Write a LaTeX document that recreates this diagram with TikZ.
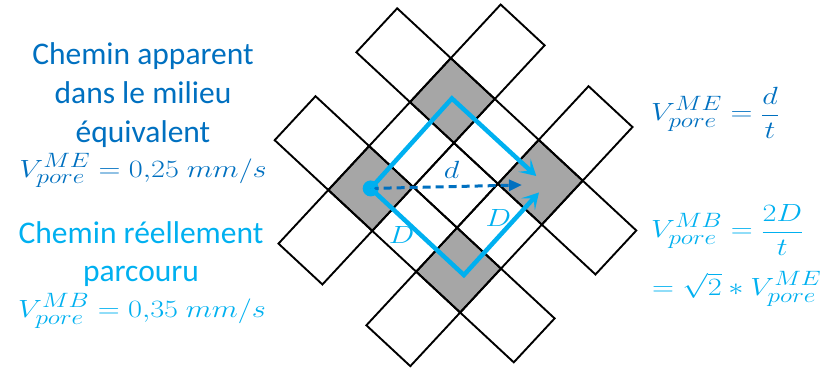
\documentclass[tikz,border=0pt]{standalone}
\usepackage{fontspec}
\setmainfont{Carlito}
\usepackage{graphicx}
\usetikzlibrary{arrows.meta}
\definecolor{dblue}{RGB}{0,112,192}
\definecolor{lblue}{RGB}{0,176,240}
\definecolor{cellgrey}{RGB}{166,166,166}
\newcommand{\wmath}[1]{\scalebox{1.22}[1]{$\displaystyle #1$}}
\begin{document}
\begin{tikzpicture}[x=1pt,y=1pt,
  cell/.style={draw=black, line width=1.9pt},
  greycell/.style={fill=cellgrey},
  bluepath/.style={draw=lblue, line width=4.5pt, -{Stealth[length=16pt,width=18pt,inset=8pt]}},
  dasharrow/.style={draw=dblue, line width=3pt, dash pattern=on 8pt off 5pt, -{Triangle[length=13pt,width=11pt]}},
  txt/.style={font=\fontsize{31.5}{38}\selectfont, anchor=base, inner sep=0pt},
  mth/.style={font=\fontsize{28}{32}\selectfont, inner sep=0pt},
  lbl/.style={font=\fontsize{28}{32}\selectfont, inner sep=0pt}
]
\useasboundingbox (0,0) rectangle (821,369);

\begin{scope}[shift={(328.3,179)}, rotate=-42.9, x=60pt, y=60pt]
  % grey cells
  \fill[greycell] (0,0) rectangle (1,1);
  \fill[greycell] (0,2) rectangle (1,3);
  \fill[greycell] (2,0) rectangle (3,1);
  \fill[greycell] (2,2) rectangle (3,3);
  % inner 3x3 block
  \foreach \i in {0,1,2} {\foreach \j in {0,1,2} {\draw[cell] (\i,\j) rectangle ++(1,1);}}
  % outer cells
  \draw[cell] (-1.22,0) rectangle (0,1);
  \draw[cell] (0,-1.22) rectangle (1,0);
  \draw[cell] (-1.22,2) rectangle (0,3);
  \draw[cell] (0,3) rectangle (1,4.22);
  \draw[cell] (3,2) rectangle (4.22,3);
  \draw[cell] (2,3) rectangle (3,4.22);
  \draw[cell] (3,0) rectangle (4.22,1);
  \draw[cell] (2,-1.22) rectangle (3,0);
  % path points
  \coordinate (up1) at (0.47,2.52);
  \coordinate (up2) at (2.38,2.53);
  \coordinate (lo1) at (2.62,0.5);
  \coordinate (lo2) at (2.6,2.36);
  \node[circle, fill=lblue, minimum size=16pt, inner sep=0pt] (dot) at (0.5,0.5) {};
\end{scope}

\coordinate (dtip) at (522,184);
\draw[dasharrow] (dot.center) -- (dtip);
\draw[bluepath] (dot.center) -- (up1) -- (up2);
\draw[bluepath] (dot.center) -- (lo1) -- (lo2);

\node[lbl, text=dblue] (dlab) at (451.7,199) {\wmath{d}};
\node[lbl, text=lblue] (Dlab1) at (401.7,134) {\wmath{D}};
\node[lbl, text=lblue] (Dlab2) at (498.3,150.7) {\wmath{D}};

% left texts
\node[txt, text=dblue] (l1) at (143,304) {Chemin apparent};
\node[txt, text=dblue] (l2) at (143,265) {dans le milieu};
\node[txt, text=dblue] (l3) at (143,226.5) {équivalent};
\node[mth, anchor=base, text=dblue] (l4) at (143,191.5) {\wmath{V_{pore}^{ME}=0{,}25\ mm/s}};
\node[txt, text=lblue] (m1) at (141,125.7) {Chemin réellement};
\node[txt, text=lblue] (m2) at (141,87.5) {parcouru};
\node[mth, anchor=base, text=lblue] (m3) at (142,51) {\wmath{V_{pore}^{MB}=0{,}35\ mm/s}};

% right formulas
\node[mth, anchor=base west, text=dblue] (r1) at (651,248) {\wmath{V_{pore}^{ME}=\frac{d}{t}}};
\node[mth, anchor=base west, text=lblue] (r2) at (651,131) {\wmath{V_{pore}^{MB}=\frac{2D}{t}}};
\node[mth, anchor=base west, text=lblue] (r3) at (652,73) {\wmath{=\sqrt{2}\ast V_{pore}^{ME}}};
\end{tikzpicture}
\end{document}
